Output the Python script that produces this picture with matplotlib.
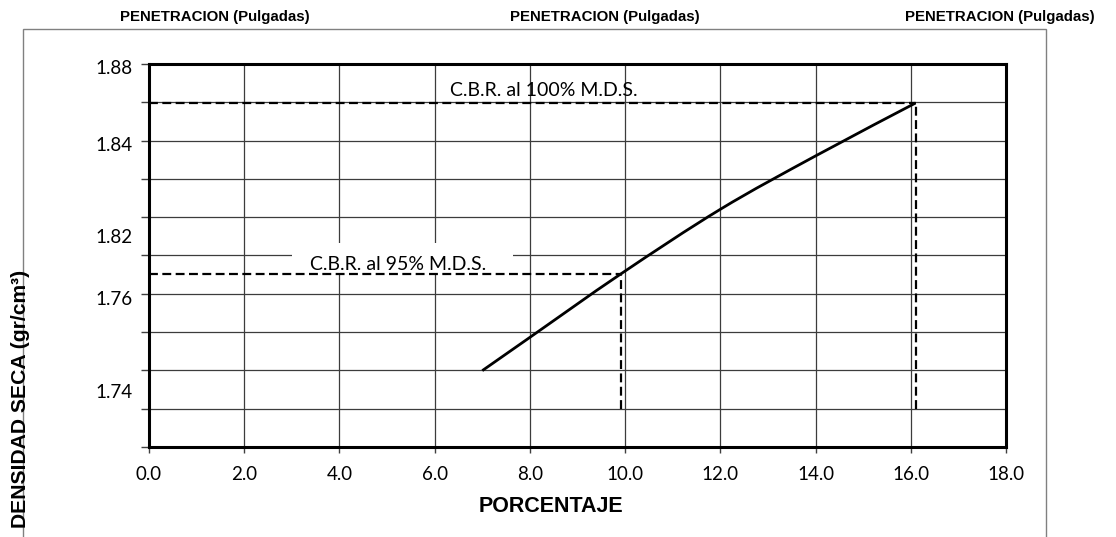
import matplotlib
matplotlib.use('Agg')
import matplotlib.pyplot as plt
import numpy as np
from matplotlib.patches import Rectangle, PathPatch
from matplotlib.path import Path

# ---- data ----
porcentaje = [7.0, 8.0, 9.91, 12.0, 14.0, 16.1]
densidad = [1.7519, 1.7658, 1.7923, 1.8193, 1.8416, 1.8637]
cbr_100_x = 16.1
cbr_100_y = 1.8637
cbr_95_x = 9.91
cbr_95_y = 1.7923
guide_bottom = 1.736
x_ticks = [0, 2, 4, 6, 8, 10, 12, 14, 16, 18]
x_tick_labels = ['0.0', '2.0', '4.0', '6.0', '8.0', '10.0', '12.0', '14.0', '16.0', '18.0']
y_grid = [1.72, 1.736, 1.752, 1.768, 1.784, 1.80, 1.816, 1.832, 1.848, 1.864, 1.88]
y_tick_labels = ['1.88', '1.84', '1.82', '1.76', '1.74']
y_tick_label_pos = [1.8783, 1.8458, 1.8077, 1.7818, 1.7426]
top_title = 'PENETRACION (Pulgadas)'
label_100 = 'C.B.R. al 100% M.D.S.'
label_95 = 'C.B.R. al 95% M.D.S.'

W, H = 1116, 537
fig = plt.figure(figsize=(W / 100, H / 100), dpi=100)

def py2y(py):
    return 1.72 + (447 - py) * 0.16 / 383

def px2x(px):
    return (px - 149) / 857 * 18

# outer gray frame
fig.patches.append(Rectangle((23 / W, -0.05), (1046 - 23) / W, 1 - 29 / H + 0.05,
                             transform=fig.transFigure, fill=False,
                             edgecolor='#808080', lw=1.0, zorder=0))

ax = fig.add_axes([149 / W, 1 - 447 / H, (1006 - 149) / W, (447 - 64) / H])
ax.set_xlim(0, 18)
ax.set_ylim(1.72, 1.88)

grid_c = '#3c3c3c'
for yv in y_grid:
    ax.axhline(yv, color=grid_c, lw=0.9, zorder=1)
for xv in x_ticks:
    ax.axvline(xv, color=grid_c, lw=0.9, zorder=1)

# white label box for the 95% label
bx0, bx1 = px2x(292), px2x(513)
by0, by1 = py2y(275), py2y(243)
ax.add_patch(Rectangle((bx0, by0), bx1 - bx0, by1 - by0, facecolor='white',
                       edgecolor='none', zorder=2))

dash = dict(color='black', lw=1.6, ls=(0, (4, 2)), zorder=3)
ax.plot([0, cbr_100_x], [cbr_100_y, cbr_100_y], **dash)
ax.plot([cbr_100_x, cbr_100_x], [guide_bottom, cbr_100_y], **dash)
ax.plot([0, cbr_95_x], [cbr_95_y, cbr_95_y], **dash)
ax.plot([cbr_95_x, cbr_95_x], [guide_bottom, cbr_95_y], **dash)

# smoothed line (Excel-style) through the points using cubic Bezier segments
pts = list(zip(porcentaje, densidad))
verts = [pts[0]]
codes = [Path.MOVETO]
n = len(pts)
for i in range(n - 1):
    p0 = pts[i - 1] if i > 0 else pts[i]
    p1 = pts[i]
    p2 = pts[i + 1]
    p3 = pts[i + 2] if i + 2 < n else pts[i + 1]
    c1 = (p1[0] + (p2[0] - p0[0]) / 6, p1[1] + (p2[1] - p0[1]) / 6)
    c2 = (p2[0] - (p3[0] - p1[0]) / 6, p2[1] - (p3[1] - p1[1]) / 6)
    verts += [c1, c2, p2]
    codes += [Path.CURVE4] * 3
ax.add_patch(PathPatch(Path(verts, codes), facecolor='none', edgecolor='black',
                       lw=2.0, zorder=4, capstyle='butt'))

ax.text(px2x(544), py2y(91), label_100, ha='center', va='center',
        fontsize=14, family='Lato', zorder=5)
ax.text(px2x(398), py2y(264), label_95, ha='center', va='center',
        fontsize=14, family='Lato', zorder=5)

for s in ax.spines.values():
    s.set_linewidth(2.2)
    s.set_color('black')
    s.set_zorder(6)

ax.set_xticks(x_ticks)
ax.set_xticklabels(x_tick_labels, family='Lato', fontsize=13.5)
ax.set_yticks(y_grid)
ax.set_yticklabels([])
ax.tick_params(axis='y', direction='out', length=6, width=1.0, color='#404040')
ax.tick_params(axis='x', direction='out', length=4, width=1.0, color='#404040', pad=10)

for lab, yp in zip(y_tick_labels, y_tick_label_pos):
    ax.text(px2x(133), yp, lab, ha='right', va='center', fontsize=13.5, family='Lato',
            clip_on=False)

fig.text(551 / W, 1 - 507 / H, 'PORCENTAJE', ha='center', va='center',
         fontsize=15.5, fontweight='bold', family='Liberation Sans')
fig.text(21 / W, 1 - 399 / H, 'DENSIDAD SECA (gr/cm³)', ha='center', va='center',
         rotation=90, fontsize=15.2, fontweight='bold', family='Liberation Sans')

for cx in (215, 605, 1000):
    fig.text(cx / W, 1 - 17 / H, top_title, ha='center', va='center',
             fontsize=10.8, fontweight='bold', family='Liberation Sans')

fig.savefig('out.png', dpi=100)
